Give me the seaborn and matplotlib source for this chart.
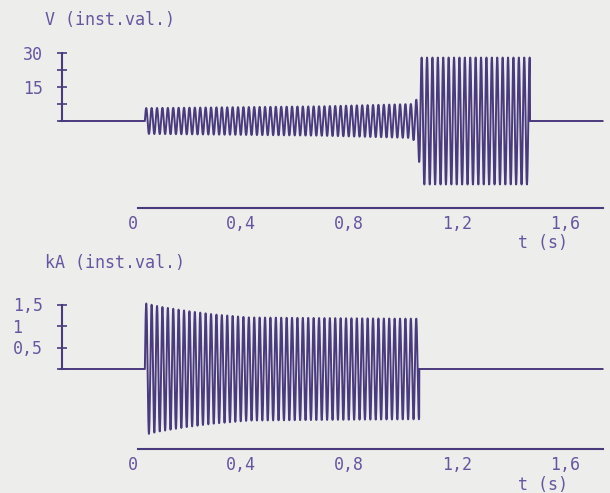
import numpy as np
import pandas as pd
import matplotlib
matplotlib.use('Agg')
import matplotlib.pyplot as plt
import seaborn as sns

# Oscillogram readings: 50 Hz carrier, envelope
freq_hz = 50
t_start, t_end = -0.27, 1.74

# voltage envelope (V peak) at keypoints
v_env_t = [0.044, 0.30, 0.70, 1.03, 1.055, 1.065, 1.47]
v_env_a = [5.7, 6.0, 6.5, 7.5, 10.0, 28.0, 28.0]

# current envelope (kA peak) at keypoints
i_env_t = [0.044, 0.10, 0.20, 0.30, 0.43, 0.80, 1.06]
i_env_a = [1.53, 1.45, 1.35, 1.27, 1.20, 1.18, 1.17]

v_ticks = [0, 7.5, 15, 22.5, 30]
v_tick_labels = ['', '', '15', '', '30']
i_ticks = [0, 0.5, 1, 1.5]
i_tick_labels = ['', '0,5', '1  ', '1,5']
t_ticks = [0, 0.4, 0.8, 1.2, 1.6]
t_tick_labels = ['0', '0,4', '0,8', '1,2', '1,6']

INK = '#4a3a7e'
TEXT = '#6656a0'
BG = '#ededeb'

sns.set_theme(style='white')
plt.rcParams['font.family'] = ['DejaVu Sans Mono']
plt.rcParams['text.color'] = TEXT


def trace(env_t, env_a):
    t = np.linspace(t_start, t_end, 12000)
    amp = np.interp(t, env_t, env_a)
    amp[(t < env_t[0]) | (t > env_t[-1])] = 0
    y = amp * np.sin(2 * np.pi * freq_hz * (t - env_t[0]))
    return pd.DataFrame({'t': t, 'y': y})


W, H = 610, 493
fig = plt.figure(figsize=(W / 100, H / 100), dpi=100, facecolor=BG)

px_per_s = 270
x0 = 133
xlim = (-x0 / px_per_s, (W - x0) / px_per_s)


def make_axes(top_px, bot_px, zero_px, px_per_unit):
    ax = fig.add_axes([0, 1 - bot_px / H, 1, (bot_px - top_px) / H])
    ax.set_facecolor('none')
    ax.set_xlim(*xlim)
    ax.set_ylim((zero_px - bot_px) / px_per_unit, (zero_px - top_px) / px_per_unit)
    return ax


def style(ax, ticks, labels, top_val, axis_val):
    for s in ['top', 'right']:
        ax.spines[s].set_visible(False)
    ax.spines['left'].set_position(('data', (62 - x0) / px_per_s))
    ax.spines['left'].set_bounds(0, top_val)
    ax.spines['bottom'].set_position(('data', axis_val))
    ax.spines['bottom'].set_bounds(0.02, 1.74)
    for s in ['left', 'bottom']:
        ax.spines[s].set_color(INK)
        ax.spines[s].set_linewidth(1.5)
    ax.set_yticks(ticks)
    ax.set_yticklabels(labels)
    ax.set_xticks(t_ticks)
    ax.set_xticklabels(t_tick_labels)
    ax.tick_params(axis='y', direction='inout', length=7.5, width=1.2,
                   color=INK, pad=10, labelsize=12, labelcolor=TEXT, left=True)
    ax.tick_params(axis='x', length=0, pad=5, labelsize=12, labelcolor=TEXT)
    ax.set_xlabel('')
    ax.set_ylabel('')


# voltage panel
ax1 = make_axes(35, 215, 121, 68 / 30)
sns.lineplot(data=trace(v_env_t, v_env_a), x='t', y='y', ax=ax1,
             color=INK, lw=1.4, estimator=None, sort=False)
style(ax1, v_ticks, v_tick_labels, 30, (121 - 208) / (68 / 30))

# current panel
ax2 = make_axes(290, 456, 369, 43)
sns.lineplot(data=trace(i_env_t, i_env_a), x='t', y='y', ax=ax2,
             color=INK, lw=1.4, estimator=None, sort=False)
style(ax2, i_ticks, i_tick_labels, 1.5, (369 - 449) / 43)

fig.text(45 / W, 1 - 20 / H, 'V (inst.val.)', fontsize=12, va='center', ha='left')
fig.text(45 / W, 1 - 263 / H, 'kA (inst.val.)', fontsize=12, va='center', ha='left')
fig.text(543 / W, 1 - 243 / H, 't (s)', fontsize=12, va='center', ha='center')
fig.text(543 / W, 1 - 485 / H, 't (s)', fontsize=12, va='center', ha='center')

fig.savefig('out.png', dpi=100, facecolor=BG)
